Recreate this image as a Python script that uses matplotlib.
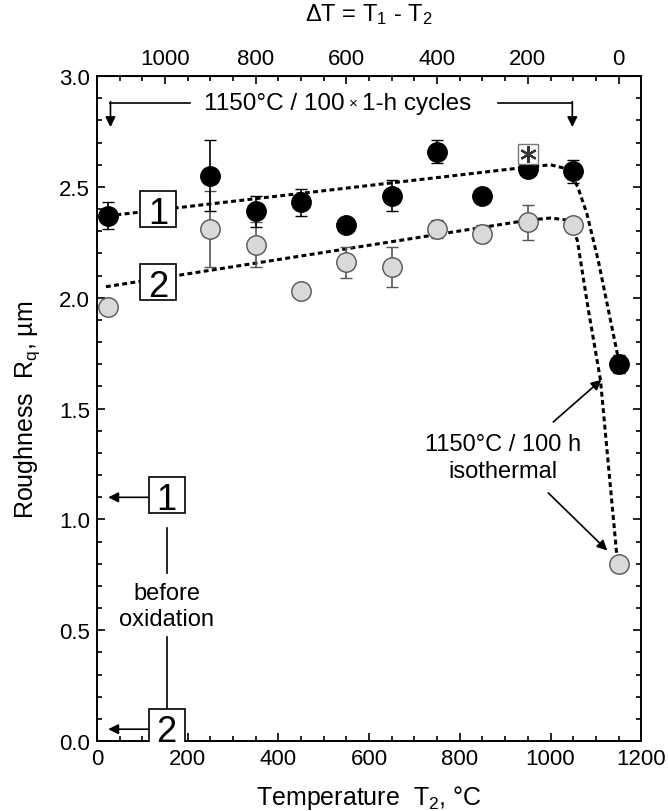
import matplotlib

matplotlib.use("Agg")
import matplotlib.pyplot as plt
from matplotlib.ticker import MultipleLocator

plt.rcParams["font.family"] = ["Liberation Sans", "DejaVu Sans"]
plt.rcParams["mathtext.fontset"] = "custom"
plt.rcParams["mathtext.rm"] = "Liberation Sans"
plt.rcParams["mathtext.it"] = "Liberation Sans"

T1 = 1150

# cyclic oxidation, sample 1 (black) and sample 2 (grey)
t2_cyc = [25, 250, 350, 450, 550, 650, 750, 850, 950, 1050]
rq1 = [2.37, 2.55, 2.39, 2.43, 2.33, 2.46, 2.66, 2.46, 2.58, 2.57]
err1 = [0.06, 0.16, 0.07, 0.06, 0.03, 0.07, 0.05, 0.03, 0.03, 0.05]
rq2 = [1.96, 2.31, 2.24, 2.03, 2.16, 2.14, 2.31, 2.29, 2.34, 2.33]
err2 = [0.02, 0.17, 0.10, 0.03, 0.07, 0.09, 0.04, 0.04, 0.08, 0.02]

# isothermal 1150 C / 100 h
t2_iso = [1150]
rq1_iso = [1.70]
err1_iso = [0.04]
rq2_iso = [0.80]

# guide lines drawn in the original
fit1_x = [25, 950, 1000, 1040, 1060, 1080, 1105, 1127, 1150]
fit1_y = [2.37, 2.59, 2.60, 2.58, 2.50, 2.38, 2.17, 1.95, 1.72]
fit2_x = [20, 950, 1000, 1040, 1059, 1083, 1110, 1146]
fit2_y = [2.05, 2.35, 2.36, 2.35, 2.26, 1.95, 1.63, 0.84]

star_x = [950]
star_y = [2.65]

fig = plt.figure(figsize=(6.68, 8.12), dpi=100)
ax = fig.add_axes([0.145, 0.086, 0.815, 0.819])

dash = (0, (1.6, 1.1))
ax.plot(fit1_x, fit1_y, color="black", lw=2.2, ls=dash, zorder=2)
ax.plot(fit2_x, fit2_y, color="black", lw=2.2, ls=dash, zorder=2)

ax.errorbar(t2_cyc, rq2, yerr=err2, fmt="o", ms=14, mfc="#d9d9d9", mec="#555555",
            mew=1, ecolor="#555555", elinewidth=1.2, capsize=4, zorder=3)
ax.errorbar(t2_iso, rq2_iso, fmt="o", ms=14, mfc="#d9d9d9", mec="#555555", mew=1, zorder=3)
ax.errorbar(t2_cyc, rq1, yerr=err1, fmt="o", ms=14, mfc="black", mec="black",
            ecolor="black", elinewidth=1.2, capsize=4, zorder=4)
ax.errorbar(t2_iso, rq1_iso, yerr=err1_iso, fmt="o", ms=14, mfc="black", mec="black",
            ecolor="black", elinewidth=1.2, capsize=4, zorder=4)

ax.plot(star_x, star_y, marker="s", ms=15, mfc="white", mec="#777777", mew=1, ls="none", zorder=5)
ax.plot(star_x, star_y, marker=(6, 2, 0), ms=12, mec="#333333", mew=1.6, ls="none", zorder=6)

ax.set_xlim(0, 1200)
ax.set_ylim(0, 3.0)
ax.xaxis.set_major_locator(MultipleLocator(200))
ax.xaxis.set_minor_locator(MultipleLocator(50))
ax.yaxis.set_major_locator(MultipleLocator(0.5))
ax.yaxis.set_minor_locator(MultipleLocator(0.1))
ax.yaxis.set_major_formatter(plt.FuncFormatter(lambda v, p: f"{v:.1f}"))
ax.tick_params(which="both", direction="in", right=True, labelsize=16, width=1.2, pad=5)
ax.tick_params(which="major", length=6)
ax.tick_params(which="minor", length=3.5)
for s in ax.spines.values():
    s.set_linewidth(1.4)

top = ax.secondary_xaxis("top", functions=(lambda x: T1 - x, lambda d: T1 - d))
top.set_xticks([1000, 800, 600, 400, 200, 0])
top.xaxis.set_minor_locator(MultipleLocator(50))
top.tick_params(which="both", direction="in", labelsize=16, width=1.2, pad=5)
top.tick_params(which="major", length=6)
top.tick_params(which="minor", length=3.5)
top.set_xlabel(r"$\Delta$T = T$_1$ - T$_2$", fontsize=17, labelpad=20)

ax.set_xlabel(r"Temperature  T$_2$, °C", fontsize=18, labelpad=10)
ax.set_ylabel(r"Roughness  R$_q$, µm", fontsize=18, labelpad=12)


def numbox(x, y, label):
    ax.plot([x], [y], marker="s", ms=26, mfc="white", mec="black", mew=1.2, ls="none", zorder=6)
    ax.text(x, y, label, fontsize=26, ha="center", va="center_baseline", zorder=7)


numbox(135, 2.40, "1")
numbox(135, 2.07, "2")

arrow = dict(arrowstyle="-|>", color="black", lw=1.2, shrinkA=0, shrinkB=0, mutation_scale=15)

# cycling label with arrows (small multiplication sign in the middle)
ax.text(565, 2.88, "×", fontsize=11, ha="center", va="center")
ax.annotate("1150°C / 100", xy=(565, 2.88), xytext=(-6, 0), textcoords="offset points",
            fontsize=17.5, ha="right", va="center")
ax.annotate("1-h cycles", xy=(565, 2.88), xytext=(6, 0), textcoords="offset points",
            fontsize=17.5, ha="left", va="center")
ax.plot([205, 30], [2.88, 2.88], color="black", lw=1.2)
ax.annotate("", xy=(30, 2.77), xytext=(30, 2.885), arrowprops=arrow)
ax.plot([885, 1048], [2.88, 2.88], color="black", lw=1.2)
ax.annotate("", xy=(1048, 2.77), xytext=(1048, 2.885), arrowprops=arrow)

# isothermal label
ax.text(896, 1.28, "1150°C / 100 h\nisothermal", fontsize=17, ha="center", va="center",
        linespacing=1.25)
ax.annotate("", xy=(1112, 1.63), xytext=(1006, 1.44), arrowprops=arrow)
ax.annotate("", xy=(1125, 0.86), xytext=(995, 1.12), arrowprops=arrow)

# before oxidation
numbox(154, 1.11, "1")
numbox(154, 0.063, "2")
ax.annotate("", xy=(25, 1.10), xytext=(115, 1.10), arrowprops=arrow)
ax.annotate("", xy=(25, 0.054), xytext=(115, 0.054), arrowprops=arrow)
ax.plot([154, 154], [0.96, 0.76], color="black", lw=1.2)
ax.plot([154, 154], [0.47, 0.14], color="black", lw=1.2)
ax.text(154, 0.61, "before\noxidation", fontsize=17, ha="center", va="center", linespacing=1.25)

fig.savefig("out.png", dpi=100)
